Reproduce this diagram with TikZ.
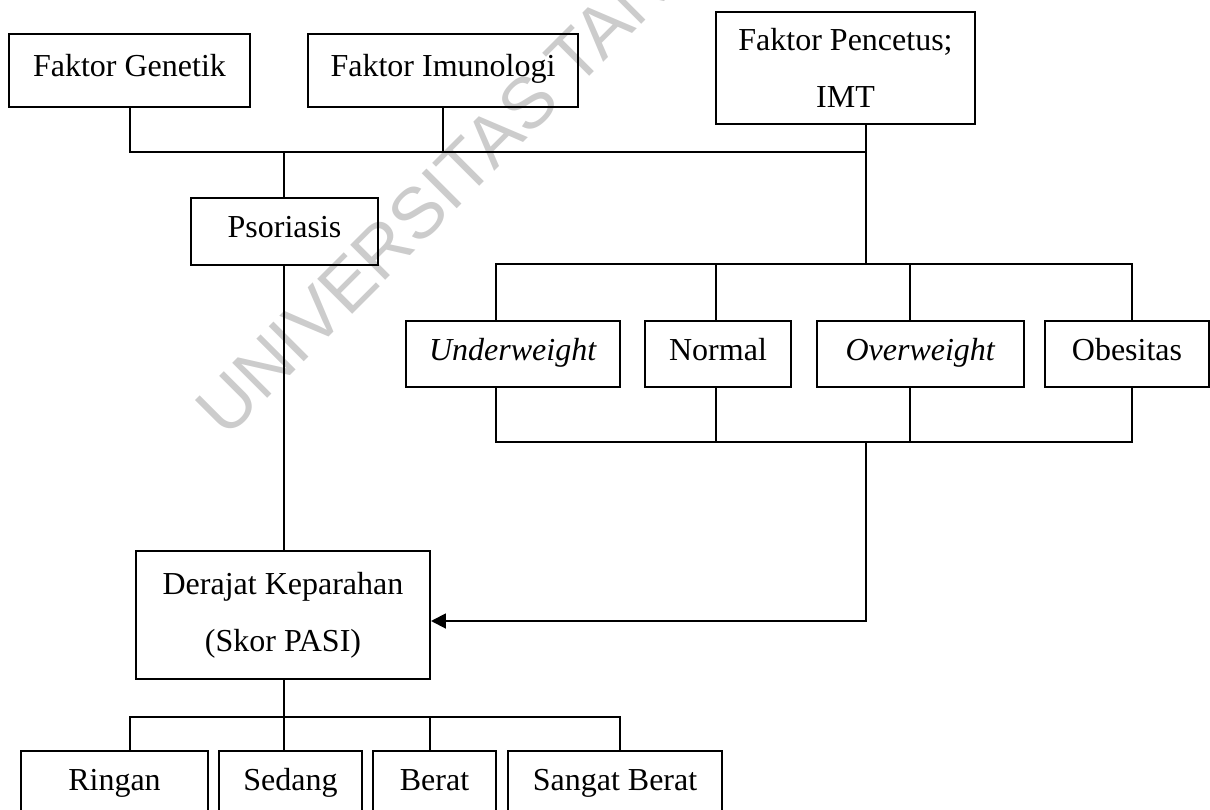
\documentclass[tikz,border=0pt]{standalone}
\usepackage{fontspec}
\setmainfont{Liberation Serif}
\setsansfont{Liberation Sans}
\usetikzlibrary{arrows.meta}
\begin{document}
\begin{tikzpicture}[x=0.375pt,y=-0.375pt,
  box/.style={draw, line width=0.75pt, rectangle, inner sep=0pt, align=center,
    font=\fontsize{12}{21.5}\selectfont},
  one/.style={box, text height=8pt, text depth=3.5pt},
  ln/.style={line width=0.75pt},
  wm/.style={text=black!20, font=\sffamily\fontsize{27}{27}\selectfont,
    rotate=45, anchor=base west, inner sep=0pt}]
\useasboundingbox (0,0) rectangle (1210,809);
\clip (0,0) rectangle (1210,809);
% watermark
\node[wm] (wmark) at (226,440) {UNIVERSITAS TAN};
% top row
\node[one, minimum width=90.375pt, minimum height=27.375pt] (gen) at (129.5,70.5) {Faktor Genetik};
\node[one, minimum width=101.25pt, minimum height=27.375pt] (imu) at (443,70.5) {Faktor Imunologi};
\node[box, minimum width=97.125pt, minimum height=42pt] (pen) at (845.5,68) {Faktor Pencetus;\\IMT};
\node[one, minimum width=70.125pt, minimum height=25.125pt] (pso) at (284.5,231.5) {Psoriasis};
% IMT categories
\node[one, minimum width=80.25pt, minimum height=24.75pt] (und) at (513,354) {\textit{Underweight}};
\node[one, minimum width=54.75pt, minimum height=24.75pt] (nor) at (718,354) {Normal};
\node[one, minimum width=77.625pt, minimum height=24.75pt] (ove) at (920.5,354) {\textit{Overweight}};
\node[one, minimum width=61.5pt, minimum height=24.75pt] (obe) at (1127,354) {Obesitas};
% severity
\node[box, minimum width=110.25pt, minimum height=48pt] (der) at (283,615) {Derajat Keparahan\\(Skor PASI)};
\node[one, minimum width=70.125pt, minimum height=25.125pt] (rin) at (114.5,784.5) {Ringan};
\node[one, minimum width=53.625pt, minimum height=25.125pt] (sed) at (290.5,784.5) {Sedang};
\node[one, minimum width=46.125pt, minimum height=25.125pt] (ber) at (434.5,784.5) {Berat};
\node[one, minimum width=80.25pt, minimum height=25.125pt] (san) at (615,784.5) {Sangat Berat};
% junctions
\coordinate (pj) at (866,152);
\coordinate (sj) at (284,152);
\coordinate (ij) at (866,264);
\coordinate (uj2) at (496,264);
\coordinate (nj2) at (716,264);
\coordinate (oj2) at (910,264);
\coordinate (bj2) at (1132,264);
\coordinate (bj3) at (1132,442);
\coordinate (mj3) at (866,442);
\coordinate (aj) at (866,621);
\coordinate (rj) at (130,717);
\coordinate (dj) at (284,717);
\coordinate (bj4) at (430,717);
\coordinate (sj4) at (620,717);
% top connectors
\draw[ln] (gen.south) |- (pj);
\draw[ln] (imu.south) -- (imu.south |- pj);
\draw[ln] (pen.south -| pj) -- (ij);
\draw[ln] (sj) -- (sj |- pso.north);
\draw[ln] (pso.south -| sj) -- (der.north -| sj);
% bus to categories
\draw[ln] (und.north -| uj2) -- (uj2) -- (bj2) -- (obe.north -| bj2);
\draw[ln] (nj2) -- (nor.north -| nj2);
\draw[ln] (oj2) -- (ove.north -| oj2);
\draw[ln] (und.south -| uj2) |- (bj3) -- (obe.south -| bj3);
\draw[ln] (nor.south -| nj2) -- (nj2 |- bj3);
\draw[ln] (ove.south -| oj2) -- (oj2 |- bj3);
\draw[ln, -{Triangle[length=5.6pt,width=5.6pt]}] (mj3) |- (der.east |- aj);
% severity levels
\draw[ln] (der.south -| dj) -- (sed.north -| dj);
\draw[ln] (rin.north -| rj) |- (sj4) -- (san.north -| sj4);
\draw[ln] (bj4) -- (ber.north -| bj4);
\end{tikzpicture}
\end{document}
